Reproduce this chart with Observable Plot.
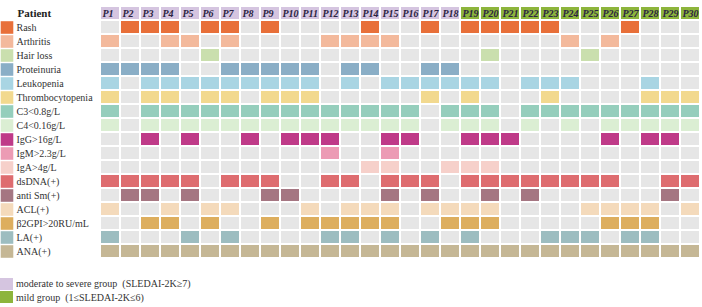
<!DOCTYPE html>
<html><head><meta charset="utf-8">
<script src="https://cdn.jsdelivr.net/npm/d3@7"></script>
<script src="https://cdn.jsdelivr.net/npm/@observablehq/plot@0.6"></script>
<style>
body{margin:0;background:#fff;font-family:"Liberation Serif",serif;}
#legend{margin-top:14px;font-size:10px;color:#333}
.item{display:flex;align-items:center;height:13.5px}
.sw{width:13px;height:12px;margin-right:3px;flex:none}
</style></head><body>
<div id="chart"></div>
<div id="legend"></div>
<script>
// ---- data ----
const patients = ["P1","P2","P3","P4","P5","P6","P7","P8","P9","P10","P11","P12","P13","P14","P15","P16","P17","P18","P19","P20","P21","P22","P23","P24","P25","P26","P27","P28","P29","P30"];
const groupNames = ["moderate to severe group  (SLEDAI-2K\u22657)", "mild group  (1\u2264SLEDAI-2K\u22646)"];
const patientGroup = [0,0,0,0,0,0,0,0,0,0,0,0,0,0,0,0,0,0,1,1,1,1,1,1,1,1,1,1,1,1];

const rowLabels = ["Rash","Arthritis","Hair loss","Proteinuria","Leukopenia","Thrombocytopenia","C3<0.8g/L","C4<0.16g/L","IgG>16g/L","IgM>2.3g/L","IgA>4g/L","dsDNA(+)","anti Sm(+)","ACL(+)","\u03b22GPI>20RU/mL","LA(+)","ANA(+)"];

const rash        = [0,1,1,1,0,1,1,0,1,0,0,0,0,1,0,0,1,0,1,1,1,1,1,0,0,0,1,0,0,0];
const arthritis   = [1,0,0,1,1,0,1,0,0,0,0,1,1,1,1,0,0,0,0,0,0,0,0,1,0,1,0,0,0,0];
const hairLoss    = [0,0,0,0,0,1,0,0,0,0,0,0,0,0,0,0,0,0,0,1,0,0,0,0,1,0,0,0,0,0];
const proteinuria = [1,1,1,1,0,0,1,1,1,1,1,0,1,1,0,0,1,1,0,0,0,0,0,0,0,0,0,0,0,0];
const leukopenia  = [1,0,1,1,1,1,1,1,1,1,1,0,1,0,1,1,1,1,1,1,0,1,1,1,0,0,0,1,0,0];
const thrombo     = [1,0,1,1,0,1,1,0,1,1,1,0,0,0,0,0,1,0,1,0,0,0,1,0,0,0,0,1,1,1];
const c3          = [1,0,1,1,1,1,1,1,1,1,1,1,1,1,1,1,0,1,1,1,0,1,1,1,1,1,1,1,1,1];
const c4          = [1,0,1,1,1,1,1,1,1,1,1,1,1,1,1,1,0,1,1,1,0,1,0,1,0,1,1,1,1,1];
const igg         = [0,0,1,0,1,0,0,1,0,1,1,1,0,0,1,1,0,0,1,1,1,0,0,0,0,1,0,1,1,0];
const igm         = [0,0,0,0,0,0,0,0,0,0,0,1,0,0,1,0,0,0,0,0,0,0,0,0,0,0,0,0,0,0];
const iga         = [0,0,0,0,0,0,0,0,0,0,0,0,0,1,1,0,0,1,1,1,0,0,0,0,0,0,0,0,0,0];
const dsdna       = [1,1,1,1,1,0,1,1,1,0,0,1,1,0,1,1,1,0,1,1,1,1,1,1,1,1,0,0,1,1];
const antiSm      = [0,1,1,0,1,0,0,0,1,1,0,0,0,0,1,0,1,0,0,1,0,1,0,0,0,0,0,0,1,0];
const acl         = [1,0,0,1,0,1,1,0,0,0,1,0,1,1,1,0,1,1,1,1,0,0,0,0,1,1,1,1,0,1];
const b2gpi       = [0,0,1,1,0,1,0,0,1,0,1,1,1,1,1,0,0,1,1,1,0,0,0,0,0,1,1,1,0,0];
const la          = [1,0,0,0,1,0,1,0,0,0,0,1,1,0,1,0,1,0,1,0,0,0,1,1,1,0,1,1,0,0];
const ana         = [1,1,1,1,1,1,1,1,1,1,1,1,1,1,1,1,1,1,1,1,1,1,1,1,1,1,1,1,1,1];

const rowValues = [rash, arthritis, hairLoss, proteinuria, leukopenia, thrombo, c3, c4, igg, igm, iga, dsdna, antiSm, acl, b2gpi, la, ana];

// ---- styles ----
const rowColors = ["#e8703a","#f3b99c","#cadfae","#8aaec6","#a9d5e3","#f2d98f","#95cebc","#dbeed3","#bf3a88","#ec9bb4","#f6d0ca","#de6c6f","#a57682","#f4dabb","#ddae5e","#9dbdc0","#c5b795"];
const emptyColor = "#e6e6e6";
const groupColors = ["#d5c5e0","#8db53c"];

// ---- build tables ----
const header = patients.map((p, j) => ({patient: p, group: patientGroup[j]}));
const cells = [];
rowLabels.forEach((row, r) => {
  patients.forEach((p, j) => {
    cells.push({row, patient: p, fill: rowValues[r][j] ? rowColors[r] : emptyColor});
  });
});
const yDomain = ["Patient", ...rowLabels];

const chart = Plot.plot({
  width: 702,
  height: 263,
  marginLeft: 99, marginRight: 1, marginTop: 0, marginBottom: 0,
  x: {domain: patients, padding: 0, axis: null},
  y: {domain: yDomain, padding: 0, axis: null},
  color: {type: "identity"},
  style: {fontFamily: "'Liberation Serif', serif", background: "#fff", overflow: "visible"},
  marks: [
    Plot.cell(header, {x: "patient", y: () => "Patient", fill: d => groupColors[d.group], inset: 1}),
    Plot.text(header, {x: "patient", y: () => "Patient", text: "patient", textAnchor: "start", dx: -8, fontWeight: "bold", fontStyle: "italic", fontSize: 10, fill: "#2b2340"}),
    Plot.cell(cells, {x: "patient", y: "row", fill: "fill", inset: 1}),
    Plot.dot(rowLabels, {y: d => d, frameAnchor: "left", dx: -92.5, symbol: "square", r: 7.1, fill: (d, i) => rowColors[i], stroke: null}),
    Plot.text(rowLabels, {y: d => d, frameAnchor: "left", dx: -83, textAnchor: "start", text: d => d, fontSize: 10, fill: "#333"}),
    Plot.text(["Patient"], {y: d => d, frameAnchor: "left", dx: -82, textAnchor: "start", text: d => d, fontWeight: "bold", fontSize: 11, fill: "#222"})
  ]
});
document.getElementById("chart").appendChild(chart);

const legend = document.getElementById("legend");
groupNames.forEach((name, i) => {
  const item = document.createElement("div");
  item.className = "item";
  const sw = document.createElement("span");
  sw.className = "sw";
  sw.style.background = groupColors[i];
  const t = document.createElement("span");
  t.textContent = name;
  t.style.whiteSpace = "pre";
  item.appendChild(sw);
  item.appendChild(t);
  legend.appendChild(item);
});
</script></body></html>
